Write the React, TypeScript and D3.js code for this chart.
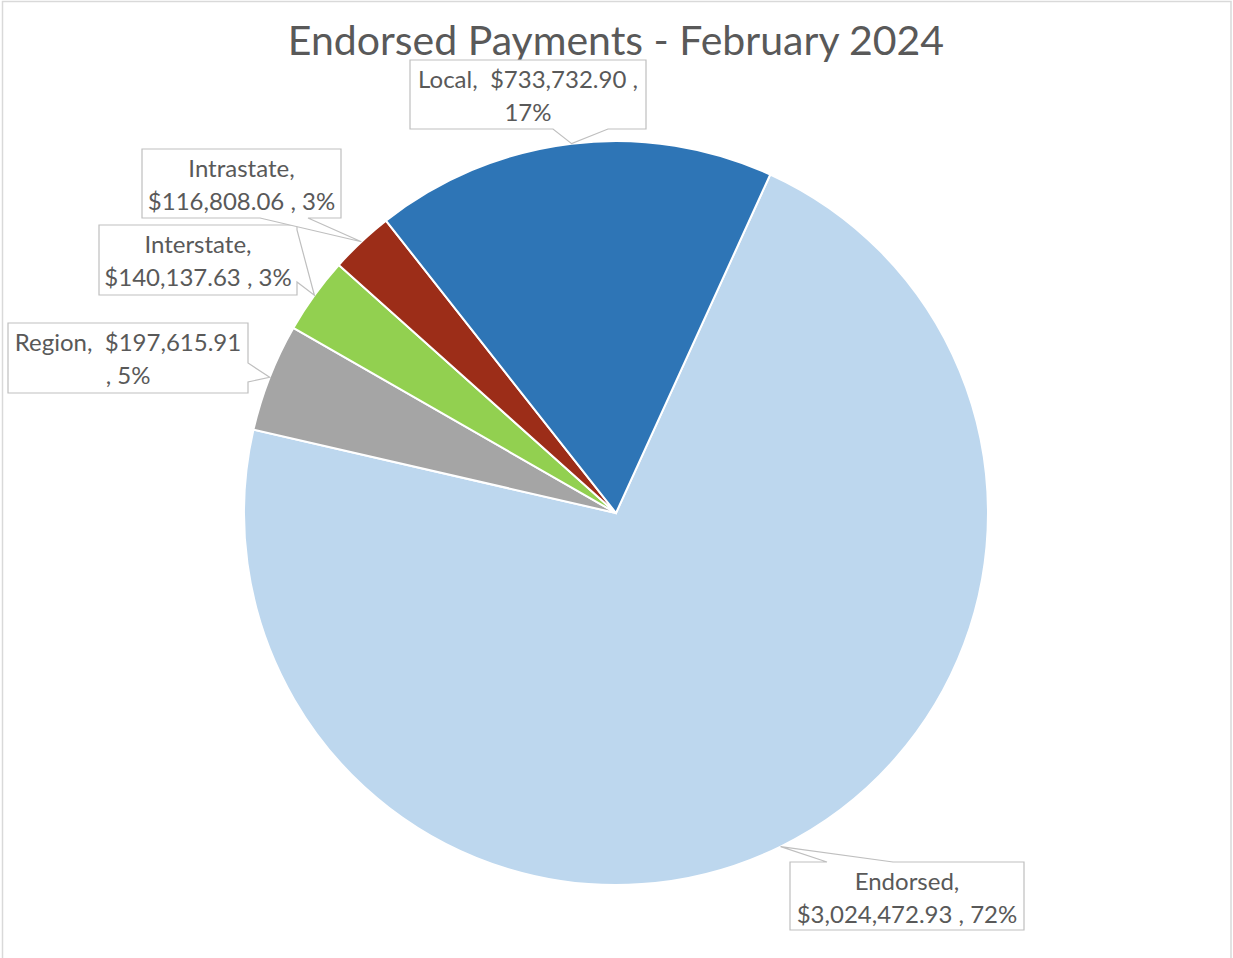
import React, { useEffect } from "react";
import * as d3 from "d3";

const categories = ["Endorsed", "Region", "Interstate", "Intrastate", "Local"];
const values = [3024472.93, 197615.91, 140137.63, 116808.06, 733732.9];
const percents = ["72%", "5%", "3%", "3%", "17%"];
const colors = ["#BDD7EE", "#A5A5A5", "#92D050", "#9C2D18", "#2E75B6"];
const title = "Endorsed Payments - February 2024";

// label text lines (as displayed)
const labelLines: string[][] = [
  ["Endorsed,", "$3,024,472.93 , 72%"],
  ["Region,  $197,615.91", ", 5%"],
  ["Interstate,", "$140,137.63 , 3%"],
  ["Intrastate,", "$116,808.06 , 3%"],
  ["Local,  $733,732.90 ,", "17%"],
];

// callout layout: box [x0,y0,x1,y1], side of wedge, wedge base
type Side = "top" | "right" | "bottom";
const boxes: [number, number, number, number][] = [
  [790, 862, 1024, 930],
  [8, 323, 248, 393],
  [99, 225, 297, 295],
  [142, 149, 341, 218],
  [410, 60, 646, 129],
];
const sides: Side[] = ["top", "right", "right", "bottom", "bottom"];
const bases: [number, number][] = [
  [827, 893],
  [363, 382],
  [230, 282],
  [260, 308],
  [553, 608],
];

const W = 1233;
const H = 958;
const cx = 616;
const cy = 513;
const R = 372;
const startDeg = 24.5;

function calloutPath(
  b: [number, number, number, number],
  side: Side,
  base: [number, number],
  apex: [number, number]
) {
  const [x0, y0, x1, y1] = b;
  const [b1, b2] = base;
  const p = d3.path();
  p.moveTo(x0, y0);
  if (side === "top") {
    p.lineTo(b1, y0);
    p.lineTo(apex[0], apex[1]);
    p.lineTo(b2, y0);
  }
  p.lineTo(x1, y0);
  if (side === "right") {
    p.lineTo(x1, b1);
    p.lineTo(apex[0], apex[1]);
    p.lineTo(x1, b2);
  }
  p.lineTo(x1, y1);
  if (side === "bottom") {
    p.lineTo(b2, y1);
    p.lineTo(apex[0], apex[1]);
    p.lineTo(b1, y1);
  }
  p.lineTo(x0, y1);
  p.closePath();
  return p.toString();
}

export default function App() {
  useEffect(() => {
    document.body.style.margin = "0";
  }, []);

  const data = categories.map((c, i) => ({ c, v: values[i], i }));
  const start = (startDeg * Math.PI) / 180;
  const pie = d3
    .pie<{ c: string; v: number; i: number }>()
    .value((d) => d.v)
    .sort(null)
    .startAngle(start)
    .endAngle(start + 2 * Math.PI);
  const arcs = pie(data);
  const arc = d3
    .arc<d3.PieArcDatum<{ c: string; v: number; i: number }>>()
    .innerRadius(0)
    .outerRadius(R);
  const edgeArc = d3
    .arc<d3.PieArcDatum<{ c: string; v: number; i: number }>>()
    .innerRadius(R)
    .outerRadius(R);

  const font = "Lato, 'Open Sans', sans-serif";

  return (
    <svg
      width={W}
      height={H}
      style={{ position: "absolute", left: 0, top: 0, display: "block" }}
    >
      <rect x={0} y={0} width={W} height={H} fill="#ffffff" />
      <rect
        x={2.5}
        y={1.5}
        width={1228.5}
        height={H + 10}
        fill="none"
        stroke="#D9D9D9"
        strokeWidth={1.5}
      />
      <text
        x={616}
        y={55}
        textAnchor="middle"
        fontFamily={font}
        fontSize={41}
        fill="#595959"
      >
        {title}
      </text>
      <g transform={`translate(${cx},${cy})`}>
        {arcs.map((a) => (
          <path
            key={a.data.c}
            d={arc(a) || ""}
            fill={colors[a.data.i]}
            stroke="#ffffff"
            strokeWidth={2}
          />
        ))}
      </g>
      {arcs.map((a) => {
        const i = a.data.i;
        const [ax, ay] = edgeArc.centroid(a);
        const apex: [number, number] = [cx + ax, cy + ay];
        const b = boxes[i];
        const mid = (b[0] + b[2]) / 2;
        return (
          <g key={"lab" + a.data.c}>
            <path
              d={calloutPath(b, sides[i], bases[i], apex)}
              fill="#ffffff"
              stroke="#BFBFBF"
              strokeWidth={1.2}
            />
            {labelLines[i].map((t, k) => (
              <text
                key={k}
                x={mid}
                y={b[1] + 28 + k * 33}
                textAnchor="middle"
                fontFamily={font}
                fontSize={24}
                fill="#595959"
                style={{ whiteSpace: "pre" }}
              >
                {t}
              </text>
            ))}
          </g>
        );
      })}
    </svg>
  );
}
